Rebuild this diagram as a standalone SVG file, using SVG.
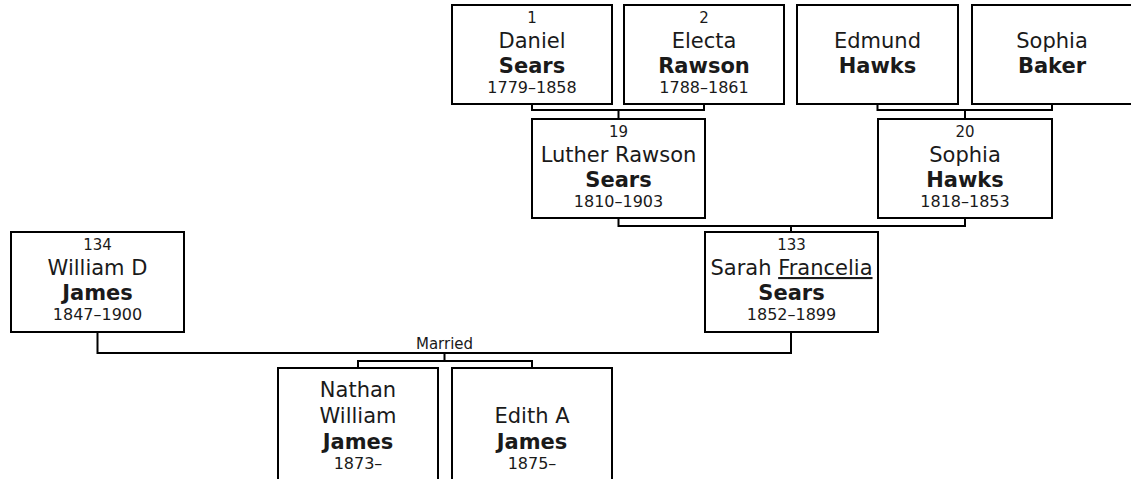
<svg xmlns="http://www.w3.org/2000/svg" width="1131" height="479" viewBox="0 0 1131 479">
<style>
  .box { fill: #ffffff; stroke: #000000; stroke-width: 2; }
  .conn { fill: none; stroke: #000000; stroke-width: 2; }
  text { font-family: "DejaVu Sans", Verdana, sans-serif; fill: #1a1a1a; text-anchor: middle; }
  .num { font-size: 15px; }
  .name { font-size: 21px; }
  .sur { font-size: 21px; font-weight: bold; }
  .date { font-size: 16px; }
  .lbl { font-size: 15px; }
</style>
<rect x="0" y="0" width="1131" height="479" fill="#ffffff"/>

<g id="connectors">
  <path class="conn" d="M532 104 V110 H704 V104 M618.5 110 V119"/>
  <path class="conn" d="M877.5 104 V110 H1052 V104 M965 110 V119"/>
  <path class="conn" d="M618.5 218 V226 H965 V218 M791 226 V232"/>
  <path class="conn" d="M97.5 332 V353 H791 V332"/>
  <path class="conn" d="M444.5 353 V361 M358 368 V361 H532 V368"/>
  <text class="lbl" x="444.5" y="349">Married</text>
</g>

<g id="p1">
  <rect class="box" x="452" y="5" width="160" height="99"/>
  <text class="num" x="532" y="22.5">1</text>
  <text class="name" x="532" y="47.5">Daniel</text>
  <text class="sur" x="532" y="73">Sears</text>
  <text class="date" x="532" y="93">1779–1858</text>
</g>

<g id="p2">
  <rect class="box" x="624" y="5" width="160" height="99"/>
  <text class="num" x="704" y="22.5">2</text>
  <text class="name" x="704" y="47.5">Electa</text>
  <text class="sur" x="704" y="73">Rawson</text>
  <text class="date" x="704" y="93">1788–1861</text>
</g>

<g id="p_edmund">
  <rect class="box" x="797" y="5" width="161" height="99"/>
  <text class="name" x="877.5" y="47.5">Edmund</text>
  <text class="sur" x="877.5" y="73">Hawks</text>
</g>

<g id="p_sophia_baker">
  <rect class="box" x="972" y="5" width="160" height="99"/>
  <text class="name" x="1052" y="47.5">Sophia</text>
  <text class="sur" x="1052" y="73">Baker</text>
</g>

<g id="p19">
  <rect class="box" x="532" y="119" width="173" height="99"/>
  <text class="num" x="618.5" y="136.5">19</text>
  <text class="name" x="618.5" y="161.5">Luther Rawson</text>
  <text class="sur" x="618.5" y="187">Sears</text>
  <text class="date" x="618.5" y="207">1810–1903</text>
</g>

<g id="p20">
  <rect class="box" x="878" y="119" width="174" height="99"/>
  <text class="num" x="965" y="136.5">20</text>
  <text class="name" x="965" y="161.5">Sophia</text>
  <text class="sur" x="965" y="187">Hawks</text>
  <text class="date" x="965" y="207">1818–1853</text>
</g>

<g id="p133">
  <rect class="box" x="705" y="232" width="173" height="100"/>
  <text class="num" x="791.5" y="250">133</text>
  <text class="name" x="791.5" y="275"><tspan>Sarah </tspan><tspan text-decoration="underline">Francelia</tspan></text>
  <text class="sur" x="791.5" y="300">Sears</text>
  <text class="date" x="791.5" y="320">1852–1899</text>
</g>

<g id="p134">
  <rect class="box" x="11" y="232" width="173" height="100"/>
  <text class="num" x="97.5" y="250">134</text>
  <text class="name" x="97.5" y="275">William D</text>
  <text class="sur" x="97.5" y="300">James</text>
  <text class="date" x="97.5" y="320">1847–1900</text>
</g>

<g id="c_nathan">
  <rect class="box" x="278" y="368" width="160" height="140"/>
  <text class="name" x="358" y="397">Nathan</text>
  <text class="name" x="358" y="423">William</text>
  <text class="sur" x="358" y="449">James</text>
  <text class="date" x="358" y="469">1873–</text>
</g>

<g id="c_edith">
  <rect class="box" x="452" y="368" width="160" height="140"/>
  <text class="name" x="532" y="423">Edith A</text>
  <text class="sur" x="532" y="449">James</text>
  <text class="date" x="532" y="469">1875–</text>
</g>
</svg>
